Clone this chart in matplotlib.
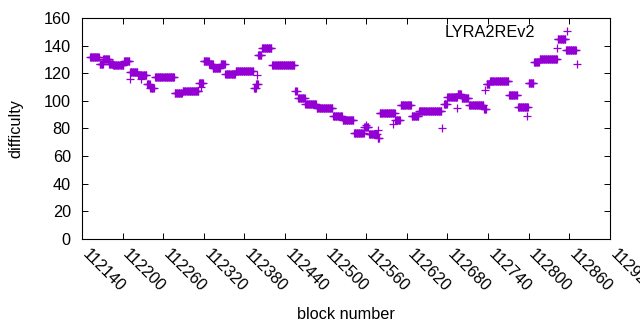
import matplotlib
matplotlib.use('Agg')
import matplotlib.pyplot as plt
import matplotlib.transforms as mtransforms
import numpy as np

plt.rcParams['font.family'] = ['Liberation Sans', 'DejaVu Sans']

# runs of consecutive blocks with the same difficulty
run_start = [112152, 112166, 112171, 112180, 112186, 112202, 112211, 112223, 112236, 112241,
             112248, 112277, 112289, 112313, 112320, 112328, 112333, 112345, 112352, 112367,
             112394, 112397, 112400, 112406, 112421, 112456, 112459, 112470, 112487, 112511,
             112525, 112542, 112557, 112564, 112577, 112580, 112603, 112611, 112627, 112638,
             112675, 112680, 112695, 112701, 112712, 112734, 112738, 112743, 112771, 112784,
             112800, 112808, 112816, 112843, 112855]
run_end = [112165, 112171, 112180, 112186, 112201, 112210, 112222, 112235, 112240, 112246,
           112276, 112288, 112312, 112319, 112327, 112333, 112344, 112351, 112366, 112393,
           112397, 112400, 112405, 112420, 112454, 112457, 112469, 112486, 112510, 112524,
           112541, 112556, 112563, 112576, 112579, 112602, 112610, 112626, 112637, 112671,
           112679, 112694, 112700, 112711, 112733, 112737, 112742, 112770, 112783, 112799,
           112807, 112815, 112842, 112854, 112870]
run_diff = [132, 127, 130, 127, 126, 129, 121, 118.5, 112, 109,
            117.5, 106, 107.5, 113, 129, 127, 124, 127, 119.5, 121.5,
            109, 112, 133, 138.5, 126, 107, 102, 98, 95, 89,
            86.5, 77, 81, 76, 73, 91.5, 86, 97, 89, 93,
            98, 103, 105, 102, 97, 94, 112, 114.5, 104, 95.5,
            113, 128, 130.5, 145, 136.5]

# scattered single blocks
single_block = [112211, 112227, 112316, 112398, 112455, 112560, 112578, 112600,
                112672, 112694, 112736, 112798, 112842, 112871]
single_diff = [116, 116, 110, 119, 107, 82.5, 79, 83,
               80, 95, 108, 89, 138, 127]

blocks = []
diffs = []
for s, e, d in zip(run_start, run_end, run_diff):
    for b in range(s, e + 1):
        blocks.append(b)
        diffs.append(d)
blocks += single_block
diffs += single_diff

fig = plt.figure(figsize=(6.4, 3.3), dpi=100)
ax = fig.add_axes([0.128, 0.2758, 0.825, 0.6697])

ax.plot(blocks, diffs, '+', color='#9400d3', markersize=5.4, markeredgewidth=0.9,
        linestyle='none', label='LYRA2REv2')

ax.set_xlim(112140, 112920)
ax.set_ylim(0, 160)
ax.set_xticks(np.arange(112140, 112921, 60))
ax.set_yticks(np.arange(0, 161, 20))
ax.tick_params(direction='in', top=True, right=True, length=4, width=0.7, labelsize=11.7)
ax.tick_params(axis='y', pad=8)
off = mtransforms.ScaledTranslation(8 / 100, -3 / 100, fig.dpi_scale_trans)
for lbl in ax.get_xticklabels():
    lbl.set_rotation(-45)
    lbl.set_ha('left')
    lbl.set_va('top')
    lbl.set_rotation_mode('anchor')
    lbl.set_transform(lbl.get_transform() + off)
for sp in ax.spines.values():
    sp.set_linewidth(0.8)

ax.set_xlabel('block number', fontsize=11.7)
ax.set_ylabel('difficulty', fontsize=11.7)
ax.xaxis.set_label_coords(0.5, -0.31)
ax.yaxis.set_label_coords(-0.11, 0.5)

ax.legend(loc='upper right', frameon=False, markerfirst=False, fontsize=11.7,
          bbox_to_anchor=(0.978, 1.035), handletextpad=1.0, handlelength=2)

fig.savefig('out.png', dpi=100)
